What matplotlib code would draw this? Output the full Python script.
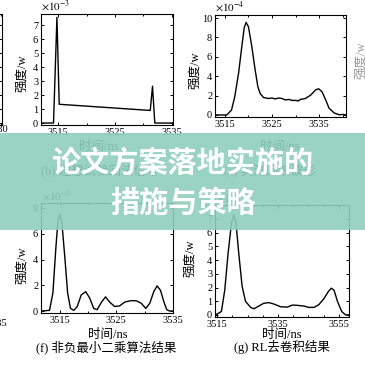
import matplotlib

matplotlib.use("Agg")
import matplotlib.pyplot as plt
from matplotlib.patches import Rectangle
from matplotlib.ticker import MultipleLocator

plt.rcParams["font.family"] = ["Liberation Serif", "Noto Sans CJK SC"]
plt.rcParams["mathtext.fontset"] = "stix"

W = H = 365

# (b) ideal echo, x1e-3
t_b = [3512, 3514.2, 3514.8, 3515.2, 3531.2, 3531.6, 3532.0, 3535.5]
v_b = [0, 0, 7.55, 1.34, 0.9, 2.63, 0, 0]

# measured echo, x1e-4
t_a = [3512.5, 3515.4, 3516.4, 3517.1, 3517.9, 3518.6, 3519.1, 3519.5, 3520.0,
       3520.7, 3521.4, 3522.0, 3522.5, 3523.2, 3524.3, 3525.0, 3525.7, 3526.4,
       3527.1, 3527.8, 3528.6, 3529.3, 3530.0, 3530.6, 3531.0, 3532.1, 3533.2,
       3534.3, 3534.9, 3535.6, 3536.4, 3537.1, 3538.2, 3539.3, 3540.0, 3540.7]
v_a = [0, 0, 0.5, 1.9, 4.3, 7.1, 9.0, 9.55, 9.1,
       7.1, 4.7, 2.9, 2.2, 1.8, 1.7, 1.75, 1.65, 1.75,
       1.7, 1.55, 1.6, 1.5, 1.5, 1.45, 1.6, 1.7, 2.05,
       2.6, 2.7, 2.4, 1.55, 0.7, 0.2, 0.02, 0.05, 0]

# (f) NNLS result, x1e-3
t_f = [3511.8, 3513.2, 3513.8, 3514.3, 3514.7, 3515.0, 3515.4, 3515.9, 3516.4,
       3516.9, 3517.5, 3518.1, 3518.8, 3519.6, 3520.3, 3521.0, 3521.6, 3522.4,
       3523.1, 3523.8, 3524.7, 3525.6, 3526.5, 3527.6, 3528.5, 3529.4, 3530.2,
       3530.9, 3531.6, 3532.2, 3532.8, 3533.4, 3533.9, 3534.4, 3535.0]
v_f = [0, 0.05, 1.4, 4.75, 7.1, 7.5, 6.8, 4.2, 1.4,
       0.2, 0.05, 0.35, 1.25, 1.5, 1.0, 0.2, 0.1, 0.7,
       1.1, 0.7, 0.35, 0.4, 0.7, 0.8, 0.8, 0.6, 0.2,
       0.6, 1.5, 1.95, 1.6, 0.7, 0.1, 0, 0]

# (g) RL deconvolution, x1e-3
t_g = [3514.5, 3516.4, 3517.5, 3518.6, 3519.7, 3520.5, 3521.2, 3522.1, 3523.2,
       3524.3, 3526.0, 3527.1, 3528.7, 3530.3, 3532.0, 3533.6, 3535.8, 3538.0,
       3539.7, 3541.3, 3543.5, 3545.1, 3546.8, 3548.4, 3550.1, 3551.5, 3552.5,
       3553.4, 3554.5, 3555.9, 3557.2, 3558.3]
v_g = [0, 0.25, 1.8, 4.5, 6.7, 7.3, 6.7, 4.5, 2.1,
       1.0, 0.55, 0.45, 0.65, 0.85, 0.9, 0.8, 0.6, 0.57,
       0.72, 0.7, 0.65, 0.55, 0.55, 0.75, 1.2, 1.7, 1.95,
       1.8, 1.0, 0.25, 0, 0]


def rect(l, t, r, b):
    return [l / W, 1 - b / H, (r - l) / W, (b - t) / H]


def fx(x):
    return x / W


def fy(y):
    return 1 - y / H


def setup(ax, xlim, ylim, xmaj, xmin, ymaj):
    ax.set_xlim(*xlim)
    ax.set_ylim(*ylim)
    ax.xaxis.set_major_locator(MultipleLocator(xmaj))
    ax.xaxis.set_minor_locator(MultipleLocator(xmin))
    ax.yaxis.set_major_locator(MultipleLocator(ymaj))
    ax.tick_params(which="both", direction="in", top=True, right=True,
                   labelsize=7.5, pad=2, width=0.7)
    ax.tick_params(which="major", length=2.5)
    ax.tick_params(which="minor", length=1.5)
    for s in ax.spines.values():
        s.set_linewidth(0.8)


fig = plt.figure(figsize=(3.65, 3.65), dpi=100)

ax_b = fig.add_axes(rect(41, 14, 173, 125))
ax_b.plot(t_b, v_b, color="black", lw=1.0)
setup(ax_b, (3512, 3535.2), (-0.14, 7.79), 10, 5, 1)
ax_b.set_xticks([3515, 3525, 3535])

ax_a = fig.add_axes(rect(215, 15, 346, 117))
ax_a.plot(t_a, v_a, color="black", lw=1.0)
setup(ax_a, (3512.9, 3540.7), (-0.21, 10.31), 10, 5, 2)
ax_a.set_xticks([3515, 3525, 3535])

ax_f = fig.add_axes(rect(41, 203, 173, 313))
ax_f.plot(t_f, v_f, color="black", lw=1.0)
setup(ax_f, (3511.7, 3534.8), (-0.155, 8.39), 10, 5, 2)
ax_f.set_xticks([3515, 3525, 3535])

ax_g = fig.add_axes(rect(215, 205, 349, 317))
ax_g.plot(t_g, v_g, color="black", lw=1.0)
setup(ax_g, (3514.3, 3558.3), (-0.15, 8.02), 20, 5, 1)
ax_g.set_xticks([3515, 3535, 3555])
ax_g.set_yticks(range(0, 8))

# partial neighbour panel cut off at the left edge (only its right spine shows)
ax_l1 = fig.add_axes(rect(-130, 14, 2, 125))
setup(ax_l1, (3512, 3535.2), (-0.14, 7.79), 10, 5, 1)
ax_l1.tick_params(labelleft=False, labelbottom=False)

lab = dict(fontsize=9, ha="center", va="center")
for x, y in [(22, 73), (22, 265), (195, 70), (190, 258)]:
    fig.text(fx(x), fy(y), "强度/w", rotation=90, **lab)
fig.text(fx(361), fy(60), "强度/w", rotation=90, color="#999999", **lab)

# cut-off tick labels of neighbouring panels
fig.text(fx(-2), fy(129), "3530", fontsize=7.5, ha="center", va="center")
fig.text(fx(-3), fy(323), "3535", fontsize=7.5, ha="center", va="center")

for x, y in [(99, 147), (280, 147), (108, 335), (282, 335)]:
    fig.text(fx(x), fy(y), "时间/ns", **lab)
fig.text(fx(106), fy(347), "(f) 非负最小二乘算法结果", **lab)
fig.text(fx(282), fy(347), "(g) RL去卷积结果", **lab)
fig.text(fx(100), fy(170), "(b) 理想试验回波信号", **lab)
fig.text(fx(270), fy(170), "(c) 实测回波波形", **lab)

off = dict(fontsize=8, ha="left", va="center")
fig.text(fx(41), fy(6), r"$\times10^{-3}$", **off)
fig.text(fx(215), fy(7), r"$\times10^{-4}$", **off)
fig.text(fx(42), fy(196), r"$\times10^{-3}$", **off)
fig.text(fx(216), fy(198), r"$\times10^{-3}$", **off)

# title banner over the middle
fig.patches.append(Rectangle((0, fy(230)), 1, (230 - 133) / H,
                             transform=fig.transFigure, facecolor="#8fcebe",
                             alpha=0.9, edgecolor="none", zorder=10))
ban = dict(fontsize=21, fontweight="bold", color="white", ha="center",
           va="center", family=["Noto Sans CJK SC"], zorder=11)
fig.text(fx(182), fy(163), "论文方案落地实施的", **ban)
fig.text(fx(183), fy(203), "措施与策略", **ban)

fig.savefig("out.png", dpi=100)
